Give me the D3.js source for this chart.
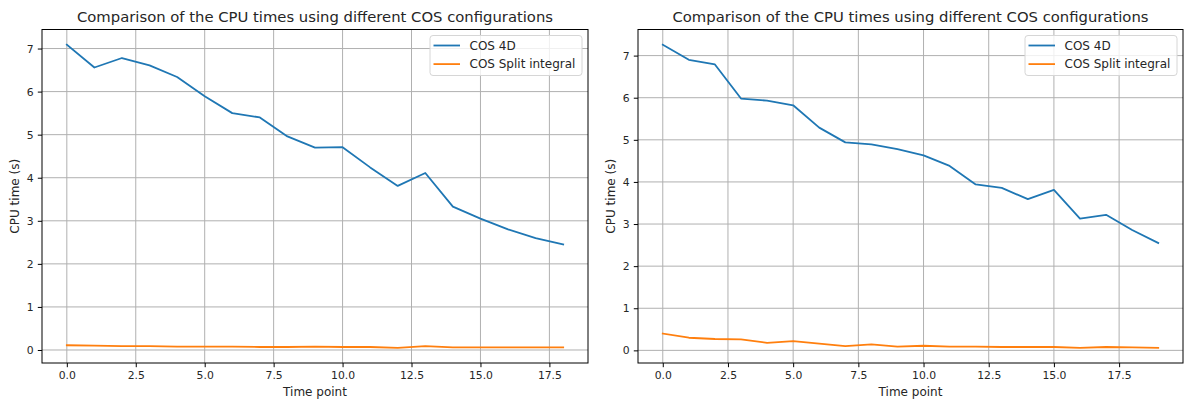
<!DOCTYPE html>
<html>
<head>
<meta charset="utf-8">
<script src="https://cdn.jsdelivr.net/npm/d3@7"></script>
<style>
  html, body { margin: 0; padding: 0; background: #fff; }
  svg { display: block; font-family: "DejaVu Sans", sans-serif; }
</style>
</head>
<body>
<svg id="chart" width="1184" height="401"></svg>
<script>
// CPU times per time point, first run (19 time points)
const timePointsA = [0, 1, 2, 3, 4, 5, 6, 7, 8, 9, 10, 11, 12, 13, 14, 15, 16, 17, 18];
const cos4dA = [7.09, 6.56, 6.78, 6.61, 6.34, 5.89, 5.50, 5.40, 4.96, 4.70, 4.71, 4.24, 3.81, 4.11, 3.33, 3.05, 2.80, 2.60, 2.45];
const splitA = [0.11, 0.10, 0.09, 0.09, 0.08, 0.08, 0.08, 0.07, 0.07, 0.08, 0.07, 0.07, 0.05, 0.09, 0.06, 0.06, 0.06, 0.06, 0.06];

// CPU times per time point, second run (20 time points)
const timePointsB = [0, 1, 2, 3, 4, 5, 6, 7, 8, 9, 10, 11, 12, 13, 14, 15, 16, 17, 18, 19];
const cos4dB = [7.26, 6.90, 6.79, 5.98, 5.93, 5.82, 5.29, 4.94, 4.89, 4.78, 4.63, 4.38, 3.94, 3.86, 3.59, 3.81, 3.13, 3.22, 2.86, 2.55];
const splitB = [0.40, 0.30, 0.27, 0.26, 0.18, 0.22, 0.16, 0.10, 0.14, 0.09, 0.11, 0.09, 0.09, 0.08, 0.08, 0.08, 0.06, 0.08, 0.07, 0.06];

const xTickValues = [0, 2.5, 5, 7.5, 10, 12.5, 15, 17.5];
const yTickValues = [0, 1, 2, 3, 4, 5, 6, 7];
const seriesNames = ["COS 4D", "COS Split integral"];
const seriesColors = ["#1f77b4", "#ff7f0e"];
const titleText = "Comparison of the CPU times using different COS configurations";
const xLabelText = "Time point";
const yLabelText = "CPU time (s)";

const svg = d3.select("#chart");

// pad an extent by 5% on each side, like matplotlib's autoscale
function padded(ext) {
  const m = (ext[1] - ext[0]) * 0.05;
  return [ext[0] - m, ext[1] + m];
}

function drawPanel(box, xs, ys1, ys2) {
  const g = svg.append("g");
  const x = d3.scaleLinear().domain(padded(d3.extent(xs))).range([box.left, box.right]);
  const allY = ys1.concat(ys2);
  const y = d3.scaleLinear().domain(padded(d3.extent(allY))).range([box.bottom, box.top]);

  // clip for data lines
  const clipId = "clip" + Math.round(box.left);
  svg.append("clipPath").attr("id", clipId)
    .append("rect").attr("x", box.left).attr("y", box.top)
    .attr("width", box.right - box.left).attr("height", box.bottom - box.top);

  // grid
  g.append("g").selectAll("line").data(xTickValues).join("line")
    .attr("x1", d => x(d)).attr("x2", d => x(d))
    .attr("y1", box.top).attr("y2", box.bottom)
    .attr("stroke", "#b0b0b0").attr("stroke-width", 1);
  g.append("g").selectAll("line").data(yTickValues).join("line")
    .attr("x1", box.left).attr("x2", box.right)
    .attr("y1", d => y(d)).attr("y2", d => y(d))
    .attr("stroke", "#b0b0b0").attr("stroke-width", 1);

  // data lines
  const line = d3.line().x((d, i) => x(xs[i])).y(d => y(d));
  const lines = g.append("g").attr("clip-path", `url(#${clipId})`);
  [ys1, ys2].forEach((ys, k) => {
    lines.append("path").datum(ys)
      .attr("fill", "none").attr("stroke", seriesColors[k])
      .attr("stroke-width", 1.8).attr("stroke-linejoin", "round").attr("stroke-linecap", "square")
      .attr("d", line);
  });

  // axes
  const xAxis = d3.axisBottom(x).tickValues(xTickValues).tickFormat(d3.format(".1f"))
    .tickSizeInner(4.2).tickSizeOuter(0).tickPadding(4.2);
  const yAxis = d3.axisLeft(y).tickValues(yTickValues).tickFormat(d3.format("d"))
    .tickSizeInner(4.2).tickSizeOuter(0).tickPadding(4.2);
  const gx = g.append("g").attr("transform", `translate(0,${box.bottom})`).call(xAxis);
  const gy = g.append("g").attr("transform", `translate(${box.left},0)`).call(yAxis);
  [gx, gy].forEach(a => {
    a.select(".domain").remove();
    a.selectAll(".tick line").attr("stroke", "#000").attr("stroke-width", 1);
    a.selectAll(".tick text").attr("fill", "#262626")
      .style("font-family", "DejaVu Sans").style("font-size", "10.8px");
  });

  // frame
  g.append("rect").attr("x", box.left).attr("y", box.top)
    .attr("width", box.right - box.left).attr("height", box.bottom - box.top)
    .attr("fill", "none").attr("stroke", "#000").attr("stroke-width", 1);

  // title
  g.append("text").attr("x", (box.left + box.right) / 2).attr("y", 22)
    .attr("text-anchor", "middle").attr("fill", "#262626")
    .style("font-size", "14.8px").text(titleText);

  // axis labels
  g.append("text").attr("x", (box.left + box.right) / 2).attr("y", 396)
    .attr("text-anchor", "middle").attr("fill", "#262626")
    .style("font-size", "12px").text(xLabelText);
  g.append("text")
    .attr("transform", `translate(${box.left - 23.5},${(box.top + box.bottom) / 2}) rotate(-90)`)
    .attr("text-anchor", "middle").attr("fill", "#262626")
    .style("font-size", "12px").text(yLabelText);

  // legend
  const lw = 152, lh = 40;
  const lx = box.right - 6 - lw, ly = box.top + 6;
  const leg = g.append("g");
  leg.append("rect").attr("x", lx).attr("y", ly).attr("width", lw).attr("height", lh)
    .attr("rx", 3).attr("fill", "#fff").attr("fill-opacity", 0.8)
    .attr("stroke", "#d6d6d6").attr("stroke-width", 1);
  seriesNames.forEach((name, k) => {
    const cy = ly + 10 + k * 18.6;
    leg.append("line").attr("x1", lx + 3.5).attr("x2", lx + 30).attr("y1", cy).attr("y2", cy)
      .attr("stroke", seriesColors[k]).attr("stroke-width", 1.8);
    leg.append("text").attr("x", lx + 39.5).attr("y", cy).attr("dy", "0.35em")
      .attr("fill", "#262626").style("font-size", "12px").text(name);
  });
}

drawPanel({ left: 42, right: 588, top: 29.5, bottom: 363 }, timePointsA, cos4dA, splitA);
drawPanel({ left: 638, right: 1183, top: 29.5, bottom: 363 }, timePointsB, cos4dB, splitB);
</script>
</body>
</html>
